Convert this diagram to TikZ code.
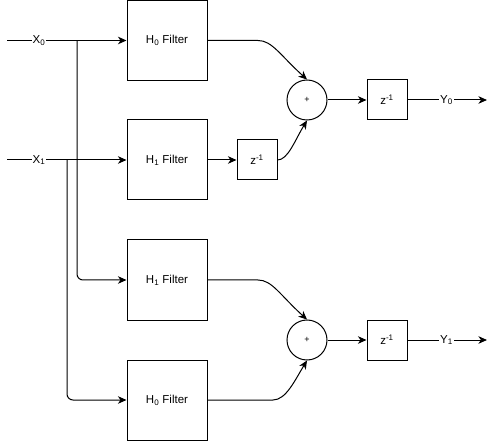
\documentclass[tikz,border=0pt]{standalone}
\usepackage{fontspec}
\setmainfont{Liberation Sans}
\usetikzlibrary{arrows.meta}
\begin{document}
\begin{tikzpicture}[x=1pt,y=-1pt,
  every node/.style={font=\fontsize{11.5}{13}\selectfont},
  filt/.style={draw, line width=1pt, minimum width=80pt, minimum height=80pt, inner sep=0pt},
  dly/.style={draw, line width=1pt, minimum width=40pt, minimum height=40pt, inner sep=0pt},
  sumc/.style={draw, circle, line width=1pt, minimum size=40pt, inner sep=0pt, font=\fontsize{9}{10}\selectfont},
  lbl/.style={fill=white, inner sep=1pt},
  wire/.style={line width=1pt},
  arr/.style={wire, -{Stealth[length=8.5pt,width=7.5pt,inset=2.5pt]}}]
\useasboundingbox (0,0) rectangle (496,441);
\node[filt] (f0) at (167,40.5) {H\textsubscript{0} Filter};
\node[filt] (f1) at (167,160) {H\textsubscript{1} Filter};
\node[filt] (f2) at (167,280) {H\textsubscript{1} Filter};
\node[filt] (f3) at (167,400) {H\textsubscript{0} Filter};
\node[sumc] (s0) at (307,100) {+};
\node[sumc] (s1) at (307,340) {+};
\node[dly] (d0) at (257,160) {z\textsuperscript{-1}};
\node[dly] (d1) at (387,100) {z\textsuperscript{-1}};
\node[dly] (d2) at (387,340) {z\textsuperscript{-1}};
\coordinate (x0) at (7,40.5);
\coordinate (x1) at (7,160);
\coordinate (y0) at (487,100);
\coordinate (y1) at (487,340);
\coordinate (b0) at (77,40.5);
\coordinate (b1) at (67,160);
\draw[arr] (x0) -- node[lbl,pos=0.267] {X\textsubscript{0}} (f0.west);
\draw[arr] (x1) -- node[lbl,pos=0.267] {X\textsubscript{1}} (f1.west);
\draw[arr, rounded corners=6pt] (b0) |- (f2.west);
\draw[arr, rounded corners=6pt] (b1) |- (f3.west);
\draw[arr] (f1.east) -- (d0.west);
\draw[arr] (f0.east) -- (258,40.5) .. controls (272,40.5) and (280,55) .. (s0.north);
\draw[arr] (d0.east) .. controls (288,160) and (295,140) .. (s0.south);
\draw[arr] (f2.east) -- (258,280) .. controls (272,280) and (280,295) .. (s1.north);
\draw[arr] (f3.east) -- (273,400) .. controls (286,400) and (295,380) .. (s1.south);
\draw[arr] (s0.east) -- (d1.west);
\draw[arr] (s1.east) -- (d2.west);
\draw[arr] (d1.east) -- node[lbl,pos=0.49] {Y\textsubscript{0}} (y0);
\draw[arr] (d2.east) -- node[lbl,pos=0.49] {Y\textsubscript{1}} (y1);
\end{tikzpicture}
\end{document}
